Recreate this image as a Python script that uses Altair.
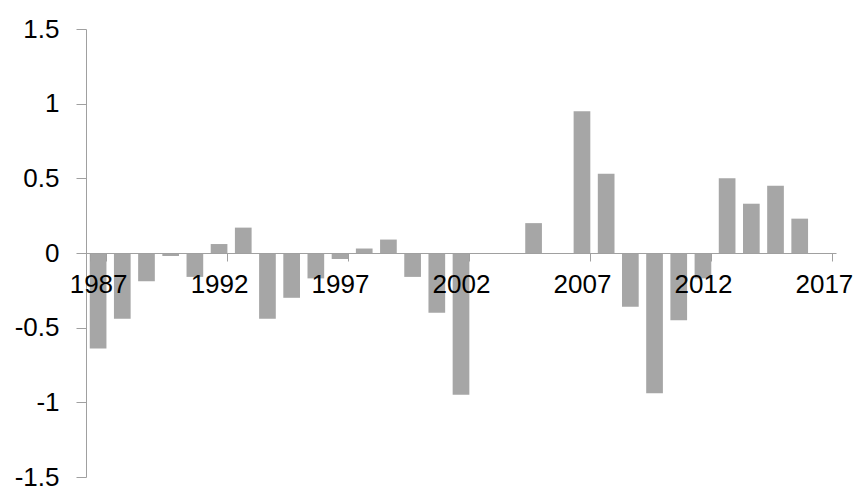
import altair as alt
import pandas as pd

years = [str(y) for y in range(1987, 2018)]
values = [-0.64, -0.44, -0.19, -0.02, -0.16, 0.06, 0.17, -0.44, -0.30, -0.17,
          -0.04, 0.03, 0.09, -0.16, -0.40, -0.95, 0.0, 0.0, 0.20, 0.0,
          0.95, 0.53, -0.36, -0.94, -0.45, -0.17, 0.50, 0.33, 0.45, 0.23]
label_years = ["1987", "1992", "1997", "2002", "2007", "2012", "2017"]
y_ticks = [-1.5, -1, -0.5, 0, 0.5, 1, 1.5]

df = pd.DataFrame({"year": years[:len(values)], "value": values})

W, H = 750, 448
axis_color = "#a0a0a0"
font = "Liberation Sans"
fs = 26

chart = alt.Chart(df).mark_bar(color="#a6a6a6").encode(
    x=alt.X("year:N",
            scale=alt.Scale(domain=years, paddingInner=0.31, paddingOuter=0.155),
            axis=alt.Axis(title=None, values=label_years, labelAngle=0,
                          orient="bottom", offset=-H / 2, zindex=1,
                          domainColor=axis_color, tickColor=axis_color,
                          tickBand="extent", tickSize=8, labelPadding=10,
                          labelFont=font, labelFontSize=fs, labelColor="black",
                          labelAlign="center", labelOverlap=False)),
    y=alt.Y("value:Q",
            scale=alt.Scale(domain=[-1.5, 1.5], nice=False, zero=False),
            axis=alt.Axis(title=None, values=y_ticks, grid=False,
                          domainColor=axis_color, tickColor=axis_color,
                          tickSize=10, labelPadding=17,
                          labelFont=font, labelFontSize=fs, labelColor="black",
                          labelExpr="'' + datum.value")),
).properties(
    width=W, height=H,
    autosize=alt.AutoSizeParams(type="none"),
    padding={"left": 78, "top": 21, "right": 17, "bottom": 11},
).configure_view(stroke=None)

chart.save("out.html", embed_options={"renderer": "svg", "actions": False})
